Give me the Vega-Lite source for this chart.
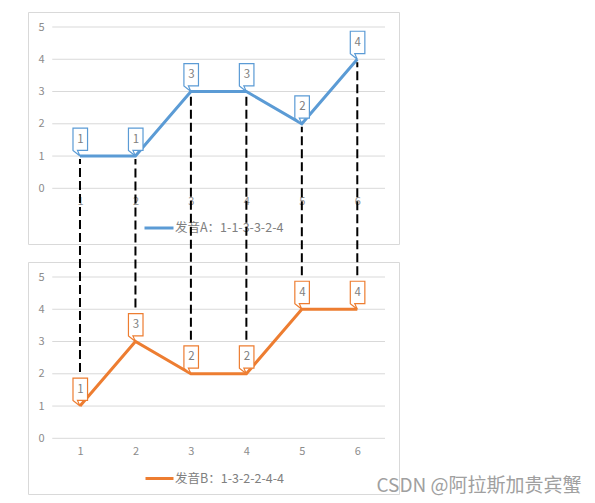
{
  "$schema": "https://vega.github.io/schema/vega-lite/v6.json",
  "padding": {"left": 27, "top": 11, "right": 5, "bottom": 0},
  "background": "white",
  "bounds": "flush",
  "spacing": 18,
  "config": {
    "font": "Noto Sans CJK SC",
    "view": {"stroke": "#d9d9d9", "strokeWidth": 1},
    "axis": {"title": null, "domain": false, "ticks": false, "tickSize": 0, "grid": false, "labelFontSize": 11, "labelColor": "#8c8c8c", "labelFlush": false, "labelBaseline": "middle"},
    "axisX": {"labelPadding": -43},
    "axisY": {"labelPadding": -10, "labelAlign": "left"}
  },
  "title": {
    "text": "CSDN @阿拉斯加贵宾蟹",
    "orient": "bottom",
    "anchor": "end",
    "fontSize": 19,
    "fontWeight": "normal",
    "color": "#a0a0a0",
    "baseline": "middle",
    "offset": 0,
    "dx": 182,
    "dy": -9
  },
  "datasets": {
    "pron": [
      {"i": 1, "a": 1, "b": 1},
      {"i": 2, "a": 1, "b": 3},
      {"i": 3, "a": 3, "b": 2},
      {"i": 4, "a": 3, "b": 2},
      {"i": 5, "a": 2, "b": 4},
      {"i": 6, "a": 4, "b": 4}
    ],
    "grid": [{"g": 0}, {"g": 1}, {"g": 2}, {"g": 3}, {"g": 4}, {"g": 5}]
  },
  "resolve": {"scale": {"color": "independent"}, "legend": {"color": "independent"}},
  "vconcat": [
    {
      "width": 371,
      "height": 232,
      "data": {"name": "pron"},
      "layer": [
        {
          "data": {"name": "grid"},
          "mark": {"type": "rule", "color": "#d9d9d9", "strokeWidth": 1},
          "encoding": {
            "y": {"field": "g", "type": "quantitative", "scale": {"domain": [-1.726, 5.465], "nice": false, "zero": false}, "axis": {"values": [0, 1, 2, 3, 4, 5]}},
            "x": {"datum": 0.5, "type": "quantitative", "scale": {"domain": [0.0626, 6.752], "nice": false, "zero": false}, "axis": {"values": [1, 2, 3, 4, 5, 6]}},
            "x2": {"datum": 6.5}
          }
        },
        {
          "mark": {"type": "line", "strokeWidth": 3},
          "encoding": {
            "x": {"field": "i", "type": "quantitative", "scale": {"domain": [0.0626, 6.752], "nice": false, "zero": false}, "axis": {"values": [1, 2, 3, 4, 5, 6]}},
            "y": {"field": "a", "type": "quantitative", "scale": {"domain": [-1.726, 5.465], "nice": false, "zero": false}, "axis": {"values": [0, 1, 2, 3, 4, 5]}},
            "color": {
              "datum": "发音A：1-1-3-3-2-4", "type": "nominal",
              "scale": {"range": ["#5B9BD5"]},
              "legend": {"orient": "none", "legendX": 115, "legendY": 200, "title": null, "symbolType": "stroke", "symbolSize": 841, "symbolStrokeWidth": 3, "labelFontSize": 12.5, "labelColor": "#808080", "labelOffset": 0, "padding": 0}
            }
          }
        },
        {
          "mark": {"type": "point", "shape": "M-0.25,-1L0.27,-1L0.27,-0.2L-0.09,-0.2L0,0L-0.25,-0.2Z", "size": 3136, "fill": "white", "stroke": "#5B9BD5", "strokeWidth": 1.2, "opacity": 1, "fillOpacity": 1},
          "encoding": {
            "x": {"field": "i", "type": "quantitative", "scale": {"domain": [0.0626, 6.752], "nice": false, "zero": false}, "axis": {"values": [1, 2, 3, 4, 5, 6]}},
            "y": {"field": "a", "type": "quantitative", "scale": {"domain": [-1.726, 5.465], "nice": false, "zero": false}, "axis": {"values": [0, 1, 2, 3, 4, 5]}}
          }
        },
        {
          "mark": {"type": "text", "dx": 0.5, "dy": -16.5, "fontSize": 11.5, "color": "#808080", "baseline": "middle"},
          "encoding": {
            "x": {"field": "i", "type": "quantitative", "scale": {"domain": [0.0626, 6.752], "nice": false, "zero": false}, "axis": {"values": [1, 2, 3, 4, 5, 6]}},
            "y": {"field": "a", "type": "quantitative", "scale": {"domain": [-1.726, 5.465], "nice": false, "zero": false}, "axis": {"values": [0, 1, 2, 3, 4, 5]}},
            "text": {"field": "a", "type": "quantitative"}
          }
        }
      ]
    },
    {
      "width": 371,
      "height": 232,
      "data": {"name": "pron"},
      "layer": [
        {
          "data": {"name": "grid"},
          "mark": {"type": "rule", "color": "#d9d9d9", "strokeWidth": 1},
          "encoding": {
            "y": {"field": "g", "type": "quantitative", "scale": {"domain": [-1.726, 5.465], "nice": false, "zero": false}, "axis": {"values": [0, 1, 2, 3, 4, 5]}},
            "x": {"datum": 0.5, "type": "quantitative", "scale": {"domain": [0.0626, 6.752], "nice": false, "zero": false}, "axis": {"values": [1, 2, 3, 4, 5, 6]}},
            "x2": {"datum": 6.5}
          }
        },
        {
          "mark": {"type": "line", "strokeWidth": 3},
          "encoding": {
            "x": {"field": "i", "type": "quantitative", "scale": {"domain": [0.0626, 6.752], "nice": false, "zero": false}, "axis": {"values": [1, 2, 3, 4, 5, 6]}},
            "y": {"field": "b", "type": "quantitative", "scale": {"domain": [-1.726, 5.465], "nice": false, "zero": false}, "axis": {"values": [0, 1, 2, 3, 4, 5]}},
            "color": {
              "datum": "发音B：1-3-2-2-4-4", "type": "nominal",
              "scale": {"range": ["#ED7D31"]},
              "legend": {"orient": "none", "legendX": 116, "legendY": 201, "title": null, "symbolType": "stroke", "symbolSize": 784, "symbolStrokeWidth": 3, "labelFontSize": 12.5, "labelColor": "#808080", "labelOffset": 0, "padding": 0}
            }
          }
        },
        {
          "mark": {"type": "point", "shape": "M-0.25,-1L0.27,-1L0.27,-0.2L-0.09,-0.2L0,0L-0.25,-0.2Z", "size": 3136, "fill": "white", "stroke": "#ED7D31", "strokeWidth": 1.2, "opacity": 1, "fillOpacity": 1},
          "encoding": {
            "x": {"field": "i", "type": "quantitative", "scale": {"domain": [0.0626, 6.752], "nice": false, "zero": false}, "axis": {"values": [1, 2, 3, 4, 5, 6]}},
            "y": {"field": "b", "type": "quantitative", "scale": {"domain": [-1.726, 5.465], "nice": false, "zero": false}, "axis": {"values": [0, 1, 2, 3, 4, 5]}}
          }
        },
        {
          "mark": {"type": "text", "dx": 0.5, "dy": -16.5, "fontSize": 11.5, "color": "#808080", "baseline": "middle"},
          "encoding": {
            "x": {"field": "i", "type": "quantitative", "scale": {"domain": [0.0626, 6.752], "nice": false, "zero": false}, "axis": {"values": [1, 2, 3, 4, 5, 6]}},
            "y": {"field": "b", "type": "quantitative", "scale": {"domain": [-1.726, 5.465], "nice": false, "zero": false}, "axis": {"values": [0, 1, 2, 3, 4, 5]}},
            "text": {"field": "b", "type": "quantitative"}
          }
        },
        {
          "mark": {"type": "rule", "color": "black", "strokeWidth": 2, "strokeDash": [9, 4], "yOffset": -34, "y2Offset": -247},
          "encoding": {
            "x": {"field": "i", "type": "quantitative", "scale": {"domain": [0.0626, 6.752], "nice": false, "zero": false}, "axis": {"values": [1, 2, 3, 4, 5, 6]}},
            "y": {"field": "b", "type": "quantitative", "scale": {"domain": [-1.726, 5.465], "nice": false, "zero": false}, "axis": {"values": [0, 1, 2, 3, 4, 5]}},
            "y2": {"field": "a"}
          }
        }
      ]
    }
  ]
}
